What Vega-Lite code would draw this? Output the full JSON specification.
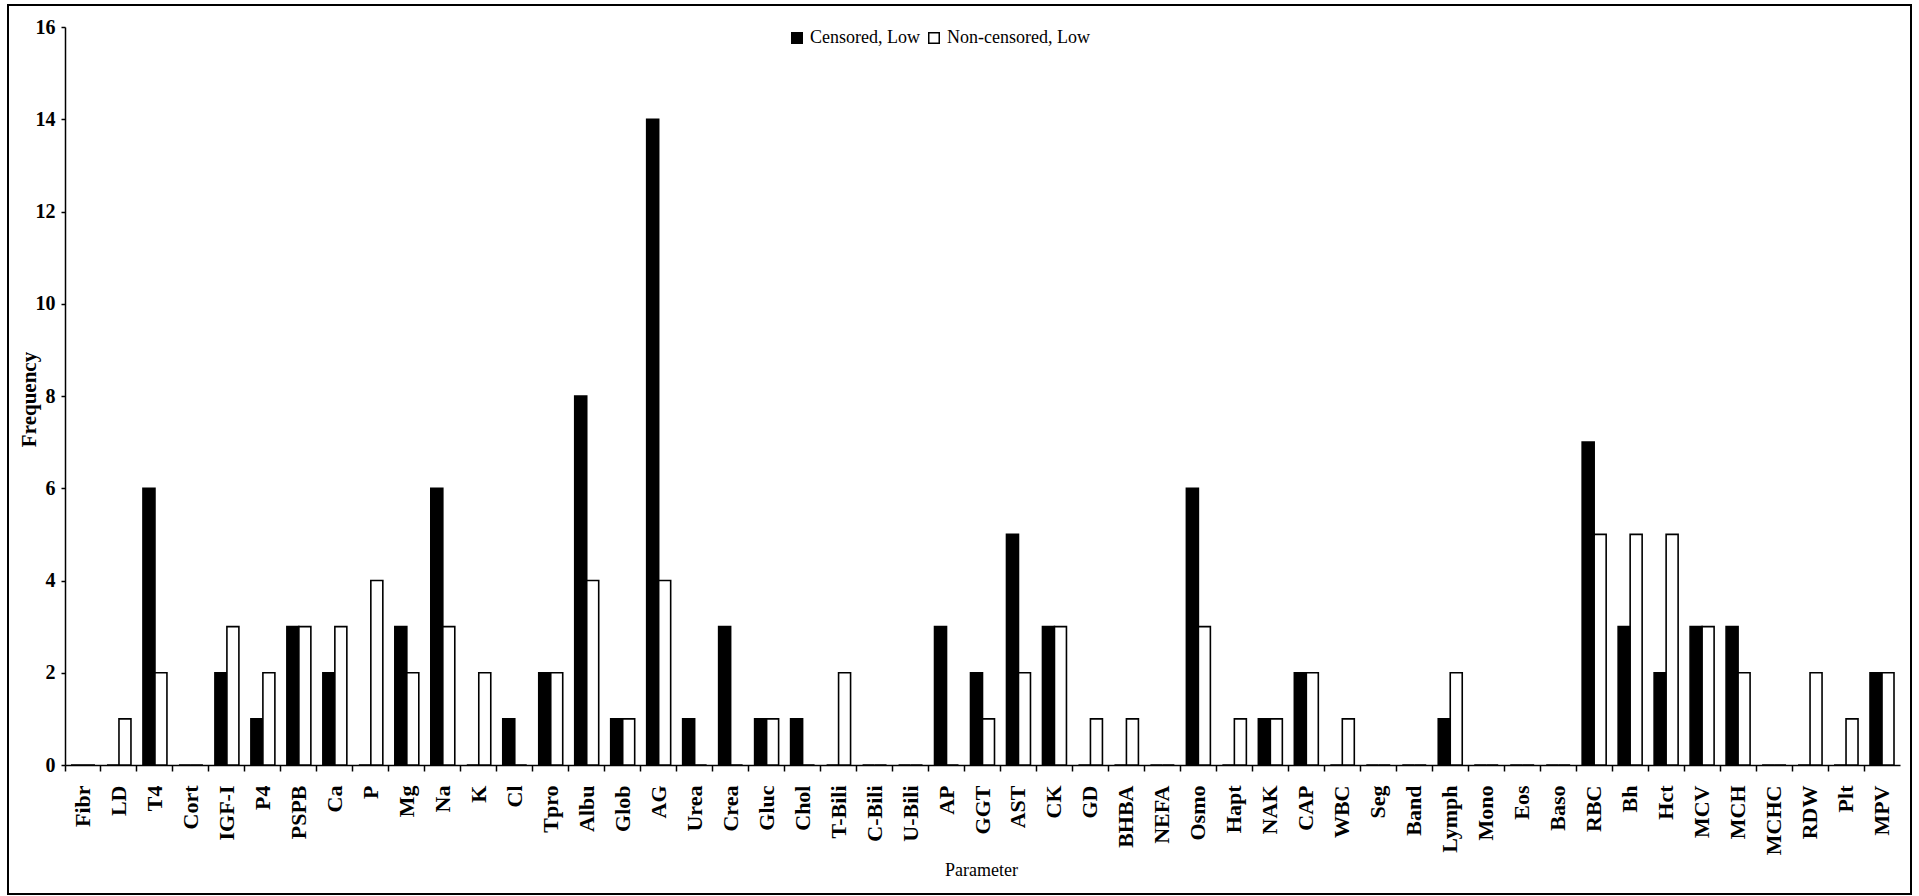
{
  "$schema": "https://vega.github.io/schema/vega-lite/v6.json",
  "width": 1903,
  "height": 889,
  "autosize": {"type": "none"},
  "padding": {"left": 8, "top": 5, "right": 8, "bottom": 2},
  "background": "white",
  "datasets": {
    "freq": [
      {"parameter": "Fibr", "series": "Censored, Low", "frequency": 0},
      {"parameter": "Fibr", "series": "Non-censored, Low", "frequency": 0},
      {"parameter": "LD", "series": "Censored, Low", "frequency": 0},
      {"parameter": "LD", "series": "Non-censored, Low", "frequency": 1},
      {"parameter": "T4", "series": "Censored, Low", "frequency": 6},
      {"parameter": "T4", "series": "Non-censored, Low", "frequency": 2},
      {"parameter": "Cort", "series": "Censored, Low", "frequency": 0},
      {"parameter": "Cort", "series": "Non-censored, Low", "frequency": 0},
      {"parameter": "IGF-I", "series": "Censored, Low", "frequency": 2},
      {"parameter": "IGF-I", "series": "Non-censored, Low", "frequency": 3},
      {"parameter": "P4", "series": "Censored, Low", "frequency": 1},
      {"parameter": "P4", "series": "Non-censored, Low", "frequency": 2},
      {"parameter": "PSPB", "series": "Censored, Low", "frequency": 3},
      {"parameter": "PSPB", "series": "Non-censored, Low", "frequency": 3},
      {"parameter": "Ca", "series": "Censored, Low", "frequency": 2},
      {"parameter": "Ca", "series": "Non-censored, Low", "frequency": 3},
      {"parameter": "P", "series": "Censored, Low", "frequency": 0},
      {"parameter": "P", "series": "Non-censored, Low", "frequency": 4},
      {"parameter": "Mg", "series": "Censored, Low", "frequency": 3},
      {"parameter": "Mg", "series": "Non-censored, Low", "frequency": 2},
      {"parameter": "Na", "series": "Censored, Low", "frequency": 6},
      {"parameter": "Na", "series": "Non-censored, Low", "frequency": 3},
      {"parameter": "K", "series": "Censored, Low", "frequency": 0},
      {"parameter": "K", "series": "Non-censored, Low", "frequency": 2},
      {"parameter": "Cl", "series": "Censored, Low", "frequency": 1},
      {"parameter": "Cl", "series": "Non-censored, Low", "frequency": 0},
      {"parameter": "Tpro", "series": "Censored, Low", "frequency": 2},
      {"parameter": "Tpro", "series": "Non-censored, Low", "frequency": 2},
      {"parameter": "Albu", "series": "Censored, Low", "frequency": 8},
      {"parameter": "Albu", "series": "Non-censored, Low", "frequency": 4},
      {"parameter": "Glob", "series": "Censored, Low", "frequency": 1},
      {"parameter": "Glob", "series": "Non-censored, Low", "frequency": 1},
      {"parameter": "AG", "series": "Censored, Low", "frequency": 14},
      {"parameter": "AG", "series": "Non-censored, Low", "frequency": 4},
      {"parameter": "Urea", "series": "Censored, Low", "frequency": 1},
      {"parameter": "Urea", "series": "Non-censored, Low", "frequency": 0},
      {"parameter": "Crea", "series": "Censored, Low", "frequency": 3},
      {"parameter": "Crea", "series": "Non-censored, Low", "frequency": 0},
      {"parameter": "Gluc", "series": "Censored, Low", "frequency": 1},
      {"parameter": "Gluc", "series": "Non-censored, Low", "frequency": 1},
      {"parameter": "Chol", "series": "Censored, Low", "frequency": 1},
      {"parameter": "Chol", "series": "Non-censored, Low", "frequency": 0},
      {"parameter": "T-Bili", "series": "Censored, Low", "frequency": 0},
      {"parameter": "T-Bili", "series": "Non-censored, Low", "frequency": 2},
      {"parameter": "C-Bili", "series": "Censored, Low", "frequency": 0},
      {"parameter": "C-Bili", "series": "Non-censored, Low", "frequency": 0},
      {"parameter": "U-Bili", "series": "Censored, Low", "frequency": 0},
      {"parameter": "U-Bili", "series": "Non-censored, Low", "frequency": 0},
      {"parameter": "AP", "series": "Censored, Low", "frequency": 3},
      {"parameter": "AP", "series": "Non-censored, Low", "frequency": 0},
      {"parameter": "GGT", "series": "Censored, Low", "frequency": 2},
      {"parameter": "GGT", "series": "Non-censored, Low", "frequency": 1},
      {"parameter": "AST", "series": "Censored, Low", "frequency": 5},
      {"parameter": "AST", "series": "Non-censored, Low", "frequency": 2},
      {"parameter": "CK", "series": "Censored, Low", "frequency": 3},
      {"parameter": "CK", "series": "Non-censored, Low", "frequency": 3},
      {"parameter": "GD", "series": "Censored, Low", "frequency": 0},
      {"parameter": "GD", "series": "Non-censored, Low", "frequency": 1},
      {"parameter": "BHBA", "series": "Censored, Low", "frequency": 0},
      {"parameter": "BHBA", "series": "Non-censored, Low", "frequency": 1},
      {"parameter": "NEFA", "series": "Censored, Low", "frequency": 0},
      {"parameter": "NEFA", "series": "Non-censored, Low", "frequency": 0},
      {"parameter": "Osmo", "series": "Censored, Low", "frequency": 6},
      {"parameter": "Osmo", "series": "Non-censored, Low", "frequency": 3},
      {"parameter": "Hapt", "series": "Censored, Low", "frequency": 0},
      {"parameter": "Hapt", "series": "Non-censored, Low", "frequency": 1},
      {"parameter": "NAK", "series": "Censored, Low", "frequency": 1},
      {"parameter": "NAK", "series": "Non-censored, Low", "frequency": 1},
      {"parameter": "CAP", "series": "Censored, Low", "frequency": 2},
      {"parameter": "CAP", "series": "Non-censored, Low", "frequency": 2},
      {"parameter": "WBC", "series": "Censored, Low", "frequency": 0},
      {"parameter": "WBC", "series": "Non-censored, Low", "frequency": 1},
      {"parameter": "Seg", "series": "Censored, Low", "frequency": 0},
      {"parameter": "Seg", "series": "Non-censored, Low", "frequency": 0},
      {"parameter": "Band", "series": "Censored, Low", "frequency": 0},
      {"parameter": "Band", "series": "Non-censored, Low", "frequency": 0},
      {"parameter": "Lymph", "series": "Censored, Low", "frequency": 1},
      {"parameter": "Lymph", "series": "Non-censored, Low", "frequency": 2},
      {"parameter": "Mono", "series": "Censored, Low", "frequency": 0},
      {"parameter": "Mono", "series": "Non-censored, Low", "frequency": 0},
      {"parameter": "Eos", "series": "Censored, Low", "frequency": 0},
      {"parameter": "Eos", "series": "Non-censored, Low", "frequency": 0},
      {"parameter": "Baso", "series": "Censored, Low", "frequency": 0},
      {"parameter": "Baso", "series": "Non-censored, Low", "frequency": 0},
      {"parameter": "RBC", "series": "Censored, Low", "frequency": 7},
      {"parameter": "RBC", "series": "Non-censored, Low", "frequency": 5},
      {"parameter": "Bh", "series": "Censored, Low", "frequency": 3},
      {"parameter": "Bh", "series": "Non-censored, Low", "frequency": 5},
      {"parameter": "Hct", "series": "Censored, Low", "frequency": 2},
      {"parameter": "Hct", "series": "Non-censored, Low", "frequency": 5},
      {"parameter": "MCV", "series": "Censored, Low", "frequency": 3},
      {"parameter": "MCV", "series": "Non-censored, Low", "frequency": 3},
      {"parameter": "MCH", "series": "Censored, Low", "frequency": 3},
      {"parameter": "MCH", "series": "Non-censored, Low", "frequency": 2},
      {"parameter": "MCHC", "series": "Censored, Low", "frequency": 0},
      {"parameter": "MCHC", "series": "Non-censored, Low", "frequency": 0},
      {"parameter": "RDW", "series": "Censored, Low", "frequency": 0},
      {"parameter": "RDW", "series": "Non-censored, Low", "frequency": 2},
      {"parameter": "Plt", "series": "Censored, Low", "frequency": 0},
      {"parameter": "Plt", "series": "Non-censored, Low", "frequency": 1},
      {"parameter": "MPV", "series": "Censored, Low", "frequency": 2},
      {"parameter": "MPV", "series": "Non-censored, Low", "frequency": 2}
    ]
  },
  "data": {"name": "freq"},
  "mark": {"type": "bar", "stroke": "black", "strokeWidth": 1.6},
  "encoding": {
    "x": {
      "field": "parameter",
      "type": "nominal",
      "sort": null,
      "scale": {"range": [57, 1892], "paddingInner": 0, "paddingOuter": 0},
      "axis": {
        "title": "Parameter",
        "offset": -129,
        "bandPosition": 0,
        "labelAngle": -90,
        "labelAlign": "right",
        "labelBaseline": "middle",
        "labelFont": "Liberation Serif",
        "labelFontWeight": "bold",
        "labelFontSize": 22,
        "labelColor": "black",
        "labelPadding": 14,
        "labelOverlap": false,
        "labelLimit": 200,
        "tickSize": 6,
        "tickColor": "black",
        "tickWidth": 1.5,
        "domainColor": "black",
        "domainWidth": 1.5,
        "titleFont": "Liberation Serif",
        "titleFontSize": 18,
        "titleFontWeight": "normal",
        "titleColor": "black",
        "titleX": 973,
        "titleY": 105,
        "titleBaseline": "middle"
      }
    },
    "xOffset": {
      "field": "series",
      "type": "nominal",
      "sort": ["Censored, Low", "Non-censored, Low"],
      "scale": {"paddingInner": 0, "paddingOuter": 0.5}
    },
    "y": {
      "field": "frequency",
      "type": "quantitative",
      "scale": {"domain": [0, 16], "range": [760, 22], "nice": false, "zero": true},
      "axis": {
        "title": "Frequency",
        "offset": -57,
        "values": [0, 2, 4, 6, 8, 10, 12, 14, 16],
        "grid": false,
        "tickSize": 4,
        "tickColor": "black",
        "tickWidth": 1.5,
        "domainColor": "black",
        "domainWidth": 1.5,
        "labelFont": "Liberation Serif",
        "labelFontWeight": "bold",
        "labelFontSize": 20,
        "labelColor": "black",
        "labelPadding": 6,
        "titleFont": "Liberation Serif",
        "titleFontSize": 21,
        "titleFontWeight": "bold",
        "titleColor": "black",
        "titleAngle": -90,
        "titleX": -36,
        "titleY": 394,
        "titleBaseline": "middle",
        "titleAlign": "center"
      }
    },
    "fill": {
      "field": "series",
      "type": "nominal",
      "scale": {"domain": ["Censored, Low", "Non-censored, Low"], "range": ["black", "white"]},
      "legend": {
        "title": null,
        "orient": "none",
        "legendX": 780,
        "legendY": 24,
        "direction": "horizontal",
        "symbolType": "square",
        "symbolSize": 110,
        "symbolStrokeColor": "black",
        "symbolStrokeWidth": 1.5,
        "labelFont": "Liberation Serif",
        "labelFontSize": 18,
        "labelColor": "black",
        "labelOffset": 4,
        "columnPadding": 5,
        "padding": 0
      }
    }
  },
  "config": {
    "font": "Liberation Serif",
    "view": {"stroke": "black", "strokeWidth": 2}
  }
}
